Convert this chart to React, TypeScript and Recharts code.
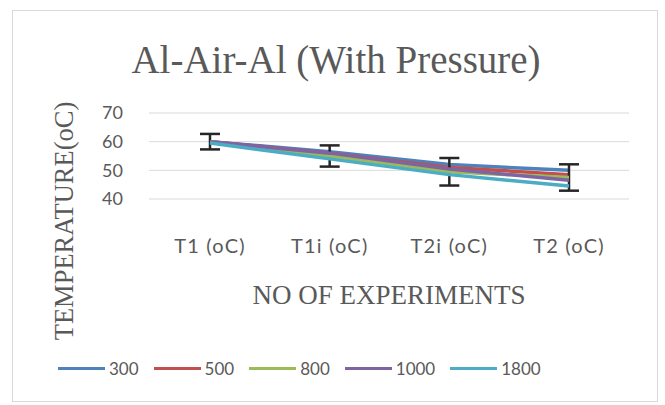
import { LineChart, Line, XAxis, YAxis, CartesianGrid, Legend, ErrorBar } from 'recharts'

const categories = ['T1 (oC)', 'T1i (oC)', 'T2i (oC)', 'T2 (oC)']
const s300 = [60, 56.5, 52, 50]
const s500 = [60, 56, 51, 48.5]
const s800 = [60, 55, 49.5, 47.5]
const s1000 = [60, 56, 50.5, 46.5]
const s1800 = [59.5, 54, 48.5, 44.5]
const err800 = [2.7, 3.7, 4.8, 4.6]
const yTicks = [40, 50, 60, 70]

const seriesNames = ['300', '500', '800', '1000', '1800']
const seriesColors = ['#4F81BD', '#C0504D', '#9BBB59', '#8064A2', '#4BACC6']
const seriesValues = [s300, s500, s800, s1000, s1800]

const data = categories.map((name, i) => {
  const row: any = { name, err: err800[i] }
  seriesNames.forEach((s, k) => {
    row[s] = seriesValues[k][i]
  })
  return row
})

const TEXT = '#595959'
const SANS = 'Lato, "Open Sans", sans-serif'
const SERIF = '"Liberation Serif", "DejaVu Serif", serif'

// keep legend in series order (recharts sorts the payload)
const LegendRow = () => (
  <div style={{ display: 'flex', alignItems: 'center', fontFamily: SANS, fontSize: 17, color: TEXT }}>
    {seriesNames.map((s, k) => (
      <div key={s} style={{ display: 'flex', alignItems: 'center', marginRight: 15 }}>
        <span style={{ display: 'inline-block', width: 47, height: 3, background: seriesColors[k], marginRight: 4 }} />
        <span>{s}</span>
      </div>
    ))}
  </div>
)

export default function App() {
  return (
    <div style={{ position: 'absolute', left: 0, top: 0, width: 665, height: 405, background: '#fff' }}>
      <div
        style={{
          position: 'absolute',
          left: 12,
          top: 10,
          width: 646,
          height: 392,
          border: '1px solid #d9d9d9',
          boxSizing: 'border-box',
        }}
      >
        <div
          style={{
            position: 'absolute',
            left: 0,
            width: 646,
            top: 27,
            textAlign: 'center',
            fontFamily: SERIF,
            fontSize: 39,
            color: TEXT,
            lineHeight: 1.15,
          }}
        >
          Al-Air-Al (With Pressure)
        </div>
        <LineChart
          width={644}
          height={390}
          data={data}
          margin={{ top: 102, right: 28, left: 76, bottom: 0 }}
        >
          <CartesianGrid vertical={false} stroke="#d9d9d9" />
          <XAxis
            dataKey="name"
            axisLine={false}
            tickLine={false}
            tickSize={0}
            tickMargin={40}
            height={181}
            padding={{ left: 61, right: 60 }}
            tick={{ fontFamily: SANS, fontSize: 20, fill: TEXT, letterSpacing: 1.2 }}
            label={{
              value: 'NO OF EXPERIMENTS',
              position: 'insideTop',
              offset: 86,
              style: { fontFamily: SERIF, fontSize: 27, fill: TEXT },
            }}
          />
          <YAxis
            domain={[40, 70]}
            ticks={yTicks}
            axisLine={false}
            tickLine={false}
            tickSize={0}
            tickMargin={26}
            width={60}
            tick={{ fontFamily: SANS, fontSize: 18, fill: TEXT }}
            label={{
              content: () => (
                <text
                  x={60}
                  y={210}
                  transform="rotate(-90 60 210)"
                  textAnchor="middle"
                  style={{ fontFamily: SERIF, fontSize: 26.5, fill: TEXT }}
                >
                  TEMPERATURE(oC)
                </text>
              ),
            }}
          />
          <Legend
            content={<LegendRow />}
            verticalAlign="bottom"
            wrapperStyle={{ left: 45, top: 347, width: 580 }}
          />
          {seriesNames.map((s, k) => (
            <Line
              key={s}
              type="linear"
              dataKey={s}
              stroke={seriesColors[k]}
              strokeWidth={3.5}
              dot={false}
              isAnimationActive={false}
            >
              {s === '800' && (
                <ErrorBar dataKey="err" width={10} stroke="#262626" strokeWidth={2.5} direction="y" />
              )}
            </Line>
          ))}
        </LineChart>
      </div>
    </div>
  )
}
